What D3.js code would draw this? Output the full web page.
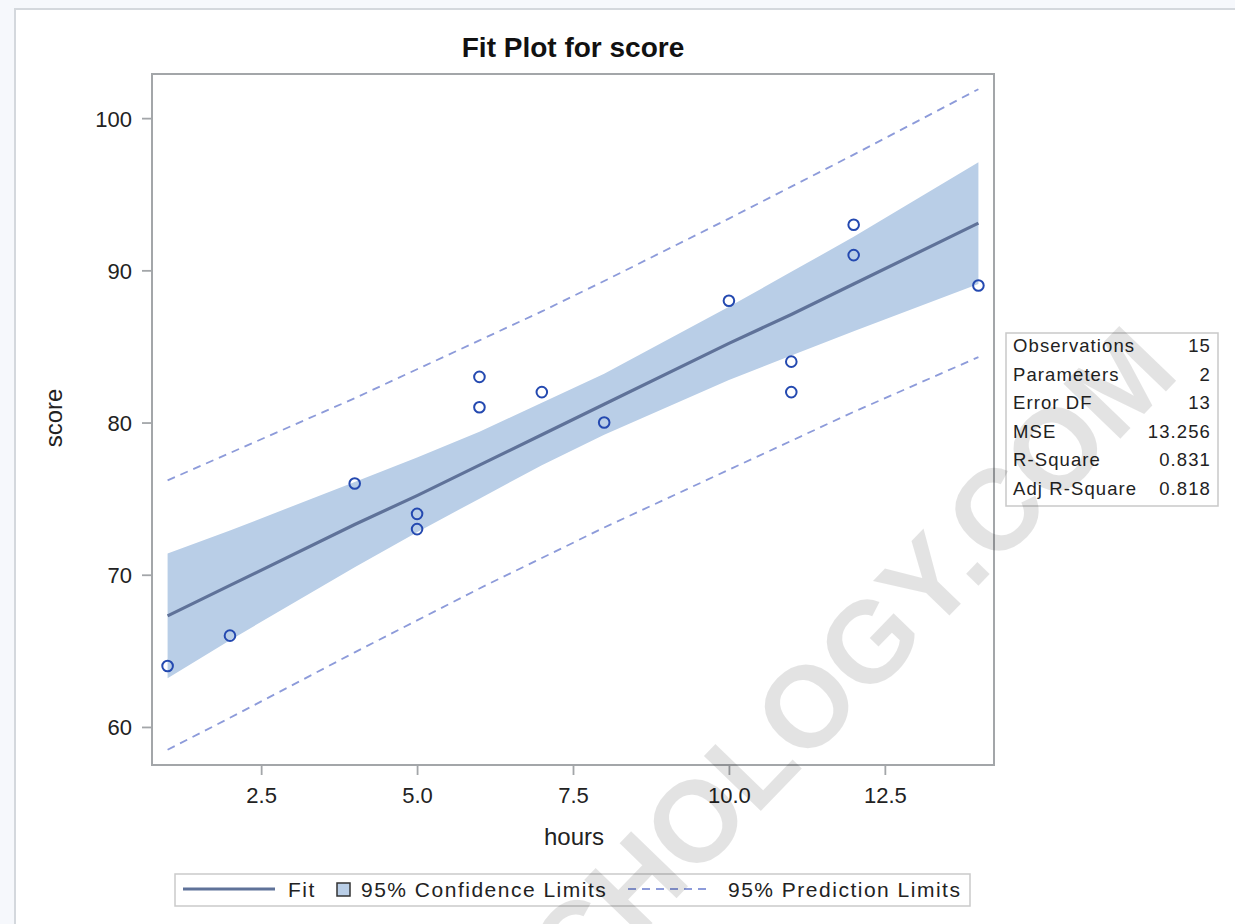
<!DOCTYPE html>
<html>
<head>
<meta charset="utf-8">
<script src="https://cdn.jsdelivr.net/npm/d3@7"></script>
<style>
    body { margin: 0; background: #f6f8fc; }
    svg { display: block; font-family: "Liberation Sans", Arial, sans-serif; }
</style>
</head>
<body>
<div id="fitWrapper"></div>
<script>
// observations
const hours = [1, 2, 4, 5, 5, 6, 6, 7, 8, 10, 11, 11, 12, 12, 14];
const score = [64, 66, 76, 74, 73, 83, 81, 82, 80, 88, 84, 82, 93, 91, 89];

// fit, confidence and prediction limits
const bandHours = [1, 2, 4, 5, 6, 7, 8, 10, 11, 12, 14];
const fitScore  = [67.3, 69.3, 73.3, 75.2, 77.2, 79.2, 81.2, 85.2, 87.1, 89.1, 93.1];
const clLower   = [63.2, 65.7, 70.5, 72.8, 75.0, 77.2, 79.2, 82.8, 84.4, 86.0, 89.1];
const clUpper   = [71.4, 72.9, 76.1, 77.7, 79.4, 81.3, 83.2, 87.6, 89.9, 92.2, 97.1];
const plLower   = [58.5, 60.6, 64.9, 67.0, 69.1, 71.1, 73.1, 76.9, 78.8, 80.7, 84.3];
const plUpper   = [76.2, 78.0, 81.6, 83.5, 85.4, 87.3, 89.3, 93.4, 95.5, 97.6, 101.9];

// axis ticks
const xTicks = [2.5, 5, 7.5, 10, 12.5];
const yTicks = [60, 70, 80, 90, 100];

// fit statistics table
const statLabels = ["Observations", "Parameters", "Error DF", "MSE", "R-Square", "Adj R-Square"];
const statValues = ["15", "2", "13", "13.256", "0.831", "0.818"];

// legend
const legendLabels = ["Fit", "95% Confidence Limits", "95% Prediction Limits"];

const bandColour = "#b9cee7";
const fitColour = "#5f7299";
const pointColour = "#2449b0";
const predColour = "#8d9bda";
const frameColour = "#a3a6a9";

function buildFitPlot() {
    let width = 1235, height = 924;
    let margins = { t: 74, r: 241, b: 159, l: 152 };

    let svg = d3.select('#fitWrapper').append('svg')
        .attr('width', width)
        .attr('height', height);

    // page panel
    svg.append('rect')
        .attr('x', 15).attr('y', 9)
        .attr('width', width).attr('height', height)
        .attr('fill', '#fff')
        .attr('stroke', '#d4d8dd')
        .attr('stroke-width', 2);

    let x = d3.scaleLinear()
        .domain([0.75, 14.25])
        .range([margins.l, width - margins.r]);
    let y = d3.scaleLinear()
        .domain([57.5, 102.9])
        .range([height - margins.b, margins.t]);

    let band = bandHours.map((h, i) => ({ h: h, fit: fitScore[i], lo: clLower[i], hi: clUpper[i], plo: plLower[i], phi: plUpper[i] }));

    let plot = svg.append('g');

    // confidence band
    plot.append('path')
        .datum(band)
        .attr('fill', bandColour)
        .attr('d', d3.area().x(d => x(d.h)).y0(d => y(d.lo)).y1(d => y(d.hi)));

    // prediction limits
    ['plo', 'phi'].forEach(key => {
        plot.append('path')
            .datum(band)
            .attr('fill', 'none')
            .attr('stroke', predColour)
            .attr('stroke-width', 1.8)
            .attr('stroke-dasharray', '8,6')
            .attr('d', d3.line().x(d => x(d.h)).y(d => y(d[key])));
    });

    // fit line
    plot.append('path')
        .datum(band)
        .attr('fill', 'none')
        .attr('stroke', fitColour)
        .attr('stroke-width', 3.2)
        .attr('d', d3.line().x(d => x(d.h)).y(d => y(d.fit)));

    // observations
    plot.selectAll('.obs')
        .data(hours.map((h, i) => [h, score[i]]))
        .join('circle')
        .attr('class', 'obs')
        .attr('cx', d => x(d[0]))
        .attr('cy', d => y(d[1]))
        .attr('r', 5.3)
        .attr('fill', 'none')
        .attr('stroke', pointColour)
        .attr('stroke-width', 2);

    // frame
    svg.append('rect')
        .attr('x', x.range()[0]).attr('y', y.range()[1])
        .attr('width', x.range()[1] - x.range()[0])
        .attr('height', y.range()[0] - y.range()[1])
        .attr('fill', 'none')
        .attr('stroke', frameColour)
        .attr('stroke-width', 2);

    // axes
    let xAxis = svg.append('g')
        .attr('transform', `translate(0,${y.range()[0]})`)
        .call(d3.axisBottom(x).tickValues(xTicks).tickFormat(d3.format('.1f')).tickSize(10).tickPadding(8));
    let yAxis = svg.append('g')
        .attr('transform', `translate(${x.range()[0]},0)`)
        .call(d3.axisLeft(y).tickValues(yTicks).tickSize(10).tickPadding(10));

    [xAxis, yAxis].forEach(a => {
        a.select('.domain').remove();
        a.selectAll('.tick line').attr('stroke', frameColour).attr('stroke-width', 1.8);
        a.selectAll('.tick text')
            .attr('fill', '#222')
            .style('font-size', '22px')
            .style('font-family', '"Liberation Sans", Arial, sans-serif');
    });
    xAxis.selectAll('.tick text').attr('dy', '0.71em').attr('y', 22);
    yAxis.selectAll('.tick text').attr('dy', '0.36em');

    // titles
    svg.append('text')
        .attr('x', 573).attr('y', 57)
        .attr('text-anchor', 'middle')
        .style('font-size', '28px')
        .style('font-weight', 'bold')
        .attr('fill', '#111')
        .text('Fit Plot for score');

    svg.append('text')
        .attr('x', 574).attr('y', 845)
        .attr('text-anchor', 'middle')
        .style('font-size', '24px')
        .attr('fill', '#222')
        .text('hours');

    svg.append('text')
        .attr('transform', 'translate(62,418) rotate(-90)')
        .attr('text-anchor', 'middle')
        .style('font-size', '24px')
        .attr('fill', '#222')
        .text('score');

    // statistics table
    let table = svg.append('g');
    table.append('rect')
        .attr('x', 1006).attr('y', 333)
        .attr('width', 212).attr('height', 173)
        .attr('fill', '#fff')
        .attr('stroke', '#c9c9c9')
        .attr('stroke-width', 1.5);
    statLabels.forEach((lab, i) => {
        let by = 352 + i * 28.6;
        table.append('text')
            .attr('x', 1013).attr('y', by)
            .style('font-size', '18.5px')
            .style('letter-spacing', '1.1px')
            .attr('fill', '#222')
            .text(lab);
        table.append('text')
            .attr('x', 1211).attr('y', by)
            .attr('text-anchor', 'end')
            .style('font-size', '18.5px')
            .style('letter-spacing', '1.1px')
            .attr('fill', '#222')
            .text(statValues[i]);
    });

    // legend
    let legend = svg.append('g');
    legend.append('rect')
        .attr('x', 175).attr('y', 874)
        .attr('width', 795).attr('height', 32)
        .attr('fill', '#fff')
        .attr('stroke', '#cacaca')
        .attr('stroke-width', 1.5);
    legend.append('line')
        .attr('x1', 183).attr('x2', 275).attr('y1', 889).attr('y2', 889)
        .attr('stroke', fitColour).attr('stroke-width', 3.2);
    legend.append('rect')
        .attr('x', 337).attr('y', 883).attr('width', 13).attr('height', 13)
        .attr('fill', bandColour).attr('stroke', '#333').attr('stroke-width', 1.5);
    legend.append('line')
        .attr('x1', 628).attr('x2', 710).attr('y1', 889).attr('y2', 889)
        .attr('stroke', predColour).attr('stroke-width', 1.8)
        .attr('stroke-dasharray', '8,6');
    [288, 361, 728].forEach((lx, i) => {
        legend.append('text')
            .attr('x', lx).attr('y', 897)
            .style('font-size', '21px')
            .style('letter-spacing', '1.5px')
            .attr('fill', '#222')
            .text(legendLabels[i]);
    });

    // watermark over everything, cut by the bottom edge as in the source
    svg.append('text')
        .attr('transform', 'translate(850,659) rotate(-46)')
        .attr('dy', '0.36em')
        .attr('text-anchor', 'middle')
        .style('font-size', '115px')
        .style('font-weight', 'bold')
        .attr('fill', '#000')
        .attr('fill-opacity', 0.11)
        .text('CHOLOGY.COM');
}

buildFitPlot();
</script>
</body>
</html>
